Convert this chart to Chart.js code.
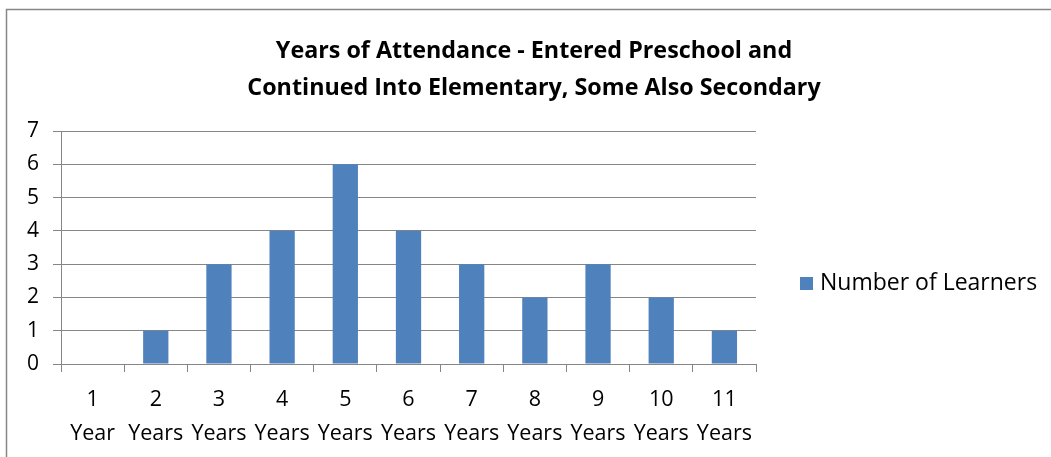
<!DOCTYPE html>
<html>
<head>
<meta charset="utf-8">
<script src="https://cdn.jsdelivr.net/npm/chart.js@4"></script>
<style>
  html, body { margin: 0; padding: 0; background: #fff; }
  #wrap { width: 1051px; height: 457px; position: relative; }
</style>
</head>
<body>
<div id="wrap"><canvas id="c" width="1051" height="457"></canvas></div>
<script>
// Chart data
const yearCounts = ["1", "2", "3", "4", "5", "6", "7", "8", "9", "10", "11"];
const yearUnits = ["Year", "Years", "Years", "Years", "Years", "Years", "Years", "Years", "Years", "Years", "Years"];
const learners = [0, 1, 3, 4, 6, 4, 3, 2, 3, 2, 1];
const seriesName = "Number of Learners";
const titleLines = ["Years of Attendance - Entered Preschool and", "Continued Into Elementary, Some Also Secondary"];
const yTicks = [0, 1, 2, 3, 4, 5, 6, 7];

const FONT = "'Open Sans', 'Noto Sans', sans-serif";
const BAR = "#4F81BD";
const GRID = "#868686";

const labels = yearCounts.map((n, i) => [n, yearUnits[i]]);

// Outer frame, title and legend drawn around the plot
const decor = {
  id: "decor",
  beforeDraw(chart) {
    const ctx = chart.ctx;
    ctx.save();
    ctx.fillStyle = "#fff";
    ctx.fillRect(0, 0, chart.width, chart.height);
    ctx.strokeStyle = "#878787";
    ctx.lineWidth = 1.5;
    ctx.beginPath();
    ctx.moveTo(6.5, chart.height + 5);
    ctx.lineTo(6.5, 9.5);
    ctx.lineTo(chart.width + 5, 9.5);
    ctx.stroke();
    ctx.restore();
  },
  afterDraw(chart) {
    const ctx = chart.ctx;
    ctx.save();
    ctx.fillStyle = "#000";
    ctx.textAlign = "center";
    ctx.textBaseline = "middle";
    ctx.font = "bold 23.3px " + FONT;
    titleLines.forEach((t, i) => ctx.fillText(t, 534, 51 + i * 37));

    // legend
    const lx = 800, ly = 283;
    ctx.fillStyle = BAR;
    ctx.fillRect(lx, ly - 6, 13, 13);
    ctx.fillStyle = "#000";
    ctx.textAlign = "left";
    ctx.font = "23px " + FONT;
    ctx.fillText(chart.data.datasets[0].label, lx + 20, ly);
    ctx.restore();
  }
};

new Chart(document.getElementById("c"), {
  type: "bar",
  data: {
    labels: labels,
    datasets: [{
      label: seriesName,
      data: learners,
      backgroundColor: BAR,
      borderWidth: 0,
      barPercentage: 0.4,
      categoryPercentage: 1.0
    }]
  },
  options: {
    responsive: false,
    animation: false,
    devicePixelRatio: 1,
    layout: { padding: { left: 0, top: 131, right: 295, bottom: 0 } },
    plugins: {
      legend: { display: false },
      title: { display: false },
      tooltip: { enabled: false }
    },
    scales: {
      x: {
        afterFit(scale) { scale.height = 93; },
        grid: {
          offset: true,
          drawOnChartArea: false,
          drawTicks: true,
          tickLength: 8,
          color: GRID,
          lineWidth: 1
        },
        border: { display: true, color: GRID, width: 1 },
        ticks: {
          color: "#000",
          font: { family: FONT, size: 21.5, lineHeight: 1.58 },
          padding: 11,
          maxRotation: 0,
          autoSkip: false
        }
      },
      y: {
        min: 0,
        max: 7,
        afterFit(scale) { scale.width = 61; },
        afterBuildTicks(scale) { scale.ticks = yTicks.map(v => ({ value: v })); },
        grid: {
          color: GRID,
          lineWidth: 1,
          drawTicks: true,
          tickLength: 8
        },
        border: { display: true, color: GRID, width: 1 },
        ticks: {
          color: "#000",
          font: { family: FONT, size: 21 },
          padding: 14,
          stepSize: 1
        }
      }
    }
  },
  plugins: [decor]
});
</script>
</body>
</html>
